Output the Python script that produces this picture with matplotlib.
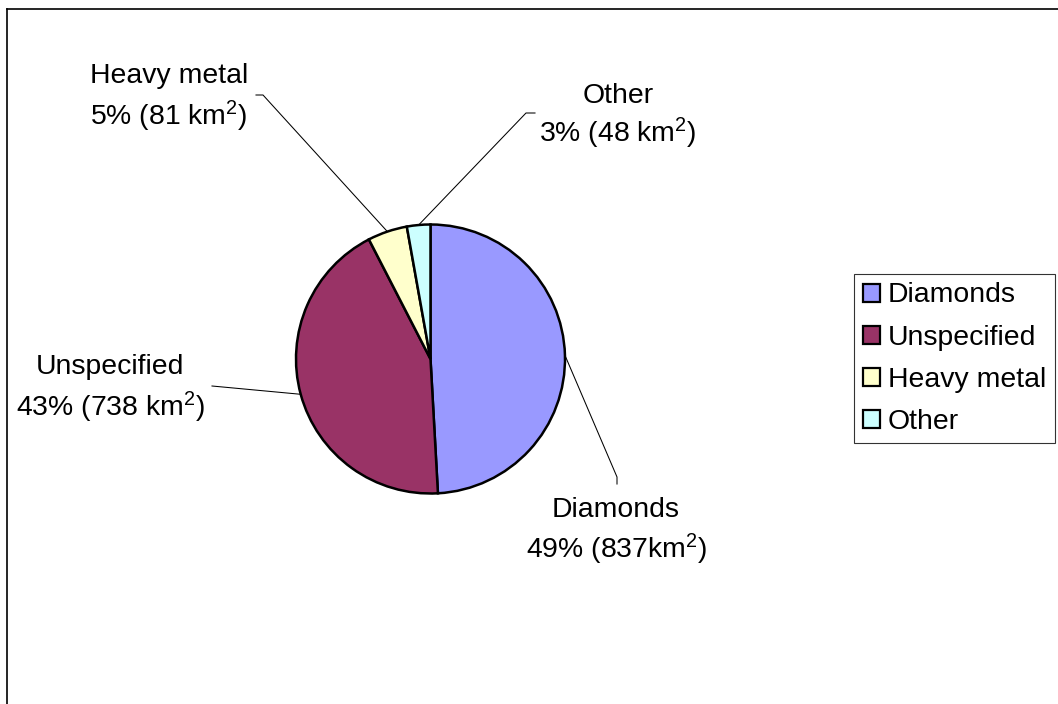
import numpy as np
import matplotlib
matplotlib.use("Agg")
import matplotlib.pyplot as plt
from matplotlib.patches import Patch
from matplotlib.lines import Line2D

plt.rcParams['font.family'] = ['Liberation Sans', 'DejaVu Sans']
plt.rcParams['mathtext.fontset'] = 'custom'
plt.rcParams['mathtext.rm'] = 'Liberation Sans'
plt.rcParams['mathtext.it'] = 'Liberation Sans:italic'
plt.rcParams['mathtext.bf'] = 'Liberation Sans:bold'

# ---- data ----
categories = ["Diamonds", "Unspecified", "Heavy metal", "Other"]
areas_km2 = [837, 738, 81, 48]
unit_sep = ["", " ", " ", " "]
colors = ["#9999FF", "#993366", "#FFFFCC", "#CCFFFF"]

W, H = 1058, 704
fig = plt.figure(figsize=(W / 100, H / 100), dpi=100)
ax = fig.add_axes([0, 0, 1, 1])


def Y(y):
    return H - y


center = (430.5, Y(359))
radius = 134.5
wedges, _ = ax.pie(areas_km2, colors=colors, startangle=90, counterclock=False,
                   center=center, radius=radius,
                   wedgeprops=dict(edgecolor="black", linewidth=1.8))
ax.set_xlim(0, W)
ax.set_ylim(0, H)
ax.set_aspect("equal")
ax.axis("off")

total = sum(areas_km2)
fs = 20.4
# label layout (image coords): center x, baseline line1, baseline line2, leader start points
label_pos = [(616, 517, 558), (110, 374, 416), (169, 83, 125), (618, 103, 142)]
leader_start = [[(617, 484), (617, 477)],
                [(212, 386)],
                [(256, 95), (263, 95)],
                [(535, 113), (526, 113)]]

for i, (w, name, v) in enumerate(zip(wedges, categories, areas_km2)):
    pct = int(round(100 * v / total))
    cx, b1, b2 = label_pos[i]
    ax.text(cx, Y(b1), name, ha="center", va="baseline", fontsize=fs)
    ax.text(cx, Y(b2), f"{pct}% ({v}{unit_sep[i]}km$^{{\\mathrm{{2}}}}$)",
            ha="center", va="baseline", fontsize=fs)
    mid = np.deg2rad((w.theta1 + w.theta2) / 2)
    px = w.center[0] + w.r * np.cos(mid)
    py = w.center[1] + w.r * np.sin(mid)
    xs = [p[0] for p in leader_start[i]] + [px]
    ys = [Y(p[1]) for p in leader_start[i]] + [py]
    ax.plot(xs, ys, color="black", linewidth=0.75, zorder=0.5)

# legend
handles = [Patch(facecolor=c, edgecolor="black", linewidth=1.6) for c in colors]
leg = fig.legend(handles, categories, loc="upper left",
                 bbox_to_anchor=(854 / W, 1 - 274 / H), fontsize=fs,
                 frameon=True, fancybox=False, shadow=False,
                 handlelength=0.6, handleheight=0.6, handletextpad=0.3,
                 labelspacing=0.57, borderpad=0.3, borderaxespad=0)
leg.get_frame().set_edgecolor("black")
leg.get_frame().set_linewidth(0.8)

# outer border (top and left visible)
fig.add_artist(Line2D([7 / W, 1], [1 - 9 / H, 1 - 9 / H], color="black", linewidth=1.2,
                      transform=fig.transFigure))
fig.add_artist(Line2D([7 / W, 7 / W], [0, 1 - 9 / H], color="black", linewidth=1.2,
                      transform=fig.transFigure))

fig.savefig("out.png", dpi=100, facecolor="white")
